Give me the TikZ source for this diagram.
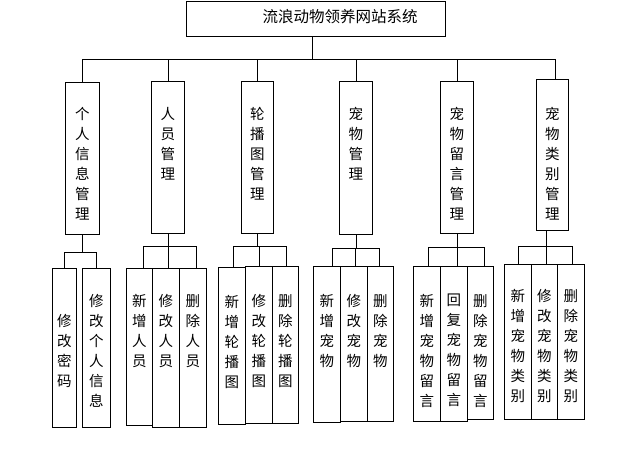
\documentclass[tikz,border=0pt]{standalone}
\usepackage{fontspec}
\newfontfamily\cjk{Noto Sans CJK SC}
\begin{document}
\begin{tikzpicture}[x=1pt,y=-1pt,
  box/.style={draw,line width=0.9pt,inner sep=0pt,anchor=north west},
  vtext/.style={font=\cjk\fontsize{14.5}{20}\selectfont,align=center,inner sep=0pt,anchor=north},
  conn/.style={line width=0.9pt}]
\useasboundingbox (0,0) rectangle (618,471);
\newcommand\mkbox[5]{\node[box,minimum width=#4pt,minimum height=#5pt] (#1) at (#2,#3) {};}
% root
\mkbox{root}{186}{1}{259}{35}
\node[font=\cjk\fontsize{15.5}{18}\selectfont,inner sep=0pt] (roott) at (340,17) {流浪动物领养网站系统};
% level 2
\mkbox{b1}{65}{82}{34}{152}
\mkbox{b2}{151}{81}{33}{152}
\mkbox{b3}{241}{81}{32}{152}
\mkbox{b4}{339}{81}{33}{153}
\mkbox{b5}{440}{81}{33}{152}
\mkbox{b6}{536}{79}{32}{151}
\node[vtext] (t1) at ([yshift=-25pt]b1.north) {个\\人\\信\\息\\管\\理};
\node[vtext] (t2) at ([yshift=-26pt]b2.north) {人\\员\\管\\理};
\node[vtext] (t3) at ([yshift=-26pt]b3.north) {轮\\播\\图\\管\\理};
\node[vtext] (t4) at ([yshift=-26pt]b4.north) {宠\\物\\管\\理};
\node[vtext] (t5) at ([yshift=-26pt]b5.north) {宠\\物\\留\\言\\管\\理};
\node[vtext] (t6) at ([yshift=-28pt]b6.north) {宠\\物\\类\\别\\管\\理};
% level 3
\mkbox{c11}{52}{268}{24}{159}
\mkbox{c12}{82}{268}{28}{159}
\mkbox{c21}{126}{268}{26}{157}
\mkbox{c22}{152}{268}{27}{159}
\mkbox{c23}{179}{268}{27}{159}
\mkbox{c31}{218}{267}{27}{157}
\mkbox{c32}{245}{266}{27}{157}
\mkbox{c33}{272}{266}{26}{157}
\mkbox{c41}{313}{266}{27}{156}
\mkbox{c42}{340}{266}{27}{155}
\mkbox{c43}{367}{266}{26}{155}
\mkbox{c51}{413}{266}{27}{155}
\mkbox{c52}{440}{266}{27}{155}
\mkbox{c53}{467}{266}{26}{153}
\mkbox{c61}{504}{264}{27}{155}
\mkbox{c62}{531}{264}{26}{155}
\mkbox{c63}{557}{264}{27}{155}
\node[vtext] (u11) at ([yshift=-46pt]c11.north) {修\\改\\密\\码};
\node[vtext] (u12) at ([yshift=-26pt]c12.north) {修\\改\\个\\人\\信\\息};
\node[vtext] (u21) at ([yshift=-26pt]c21.north) {新\\增\\人\\员};
\node[vtext] (u22) at ([yshift=-26pt]c22.north) {修\\改\\人\\员};
\node[vtext] (u23) at ([yshift=-26pt]c23.north) {删\\除\\人\\员};
\node[vtext] (u31) at ([yshift=-28pt]c31.north) {新\\增\\轮\\播\\图};
\node[vtext] (u32) at ([yshift=-28pt]c32.north) {修\\改\\轮\\播\\图};
\node[vtext] (u33) at ([yshift=-28pt]c33.north) {删\\除\\轮\\播\\图};
\node[vtext] (u41) at ([yshift=-28pt]c41.north) {新\\增\\宠\\物};
\node[vtext] (u42) at ([yshift=-28pt]c42.north) {修\\改\\宠\\物};
\node[vtext] (u43) at ([yshift=-28pt]c43.north) {删\\除\\宠\\物};
\node[vtext] (u51) at ([yshift=-28pt]c51.north) {新\\增\\宠\\物\\留\\言};
\node[vtext] (u52) at ([yshift=-28pt]c52.north) {回\\复\\宠\\物\\留\\言};
\node[vtext] (u53) at ([yshift=-28pt]c53.north) {删\\除\\宠\\物\\留\\言};
\node[vtext] (u61) at ([yshift=-25pt]c61.north) {新\\增\\宠\\物\\类\\别};
\node[vtext] (u62) at ([yshift=-25pt]c62.north) {修\\改\\宠\\物\\类\\别};
\node[vtext] (u63) at ([yshift=-25pt]c63.north) {删\\除\\宠\\物\\类\\别};
% connectors level 1
\coordinate (bus0) at (0,59);
\draw[conn] ([xshift=-3.5pt]root.south) -- ([xshift=-3.5pt]root.south |- bus0);
\draw[conn] (b1.north |- bus0) -- ([xshift=3pt]b6.north |- bus0);
\foreach \b in {b1,b2,b3,b4,b5} {\draw[conn] (\b.north |- bus0) -- (\b.north);}
\draw[conn] ([xshift=3pt]b6.north |- bus0) -- ([xshift=3pt]b6.north);
% connectors level 2
\coordinate (bus1) at (0,252);
\draw[conn] (b1.south) -- (b1.south |- bus1);
\draw[conn] (c11.north) |- (c12.north |- bus1) -- (c12.north);
\coordinate (bus2) at (0,246);
\draw[conn] (b2.south) -- (b2.south |- bus2);
\draw[conn] ([xshift=4pt]c21.north) |- ([xshift=3.5pt]c23.north |- bus2) -- ([xshift=3.5pt]c23.north);
\draw[conn] ([xshift=2.5pt]c22.north |- bus2) -- ([xshift=2.5pt]c22.north);
\coordinate (bus3) at (0,246);
\draw[conn] (b3.south) -- (b3.south |- bus3);
\draw[conn] ([xshift=1.5pt]c31.north) |- ([xshift=1pt]c33.north |- bus3) -- ([xshift=1pt]c33.north);
\draw[conn] (c32.north |- bus3) -- (c32.north);
\coordinate (bus4) at (0,248);
\draw[conn] (b4.south) -- (b4.south |- bus4);
\draw[conn] ([xshift=5.5pt]c41.north) |- ([xshift=-1pt]c43.north |- bus4) -- ([xshift=-1pt]c43.north);
\draw[conn] ([xshift=1.5pt]c42.north |- bus4) -- ([xshift=1.5pt]c42.north);
\coordinate (bus5) at (0,247);
\draw[conn] (b5.south) -- (b5.south |- bus5);
\draw[conn] ([xshift=1.5pt]c51.north) |- ([xshift=4pt]c53.north |- bus5) -- ([xshift=4pt]c53.north);
\draw[conn] ([xshift=3.5pt]c52.north |- bus5) -- ([xshift=3.5pt]c52.north);
\coordinate (bus6) at (0,246);
\draw[conn] ([xshift=-6pt]b6.south) -- ([xshift=-6pt]b6.south |- bus6);
\draw[conn] (c61.north) |- ([xshift=1.5pt]c63.north |- bus6) -- ([xshift=1.5pt]c63.north);
\draw[conn] ([xshift=2pt]c62.north |- bus6) -- ([xshift=2pt]c62.north);
\end{tikzpicture}
\end{document}
